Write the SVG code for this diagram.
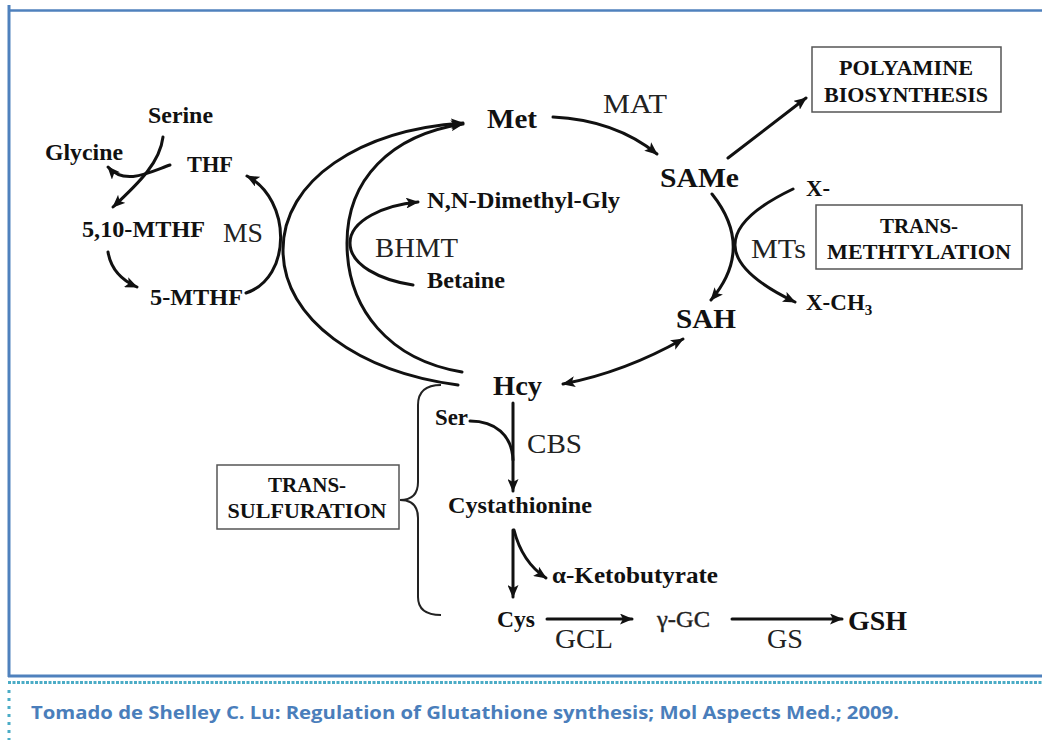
<svg xmlns="http://www.w3.org/2000/svg" width="1042" height="740" viewBox="0 0 1042 740">
<defs>
<marker id="ah" markerUnits="userSpaceOnUse" markerWidth="13" markerHeight="11" viewBox="0 0 13 11" refX="12" refY="5.5" orient="auto-start-reverse">
<path d="M0,0 L13,5.5 L0,11 L3,5.5 z" fill="#111"/>
</marker>
</defs>
<style>
.b{font-family:"Liberation Serif","Times New Roman",serif;font-weight:bold;fill:#111}
.r{font-family:"Liberation Serif","Times New Roman",serif;font-weight:normal;fill:#222}
.lbl{font-size:23px}
.big{font-size:28px}
.enz{font-size:28px}
.box{font-size:21px}
.ln{fill:none;stroke:#111;stroke-width:3;stroke-linecap:round}
.bx{fill:#fff;stroke:#555;stroke-width:1.5}
</style>
<rect width="1042" height="740" fill="#fff"/>
<g id="frame">
<line x1="8" y1="10.5" x2="1042" y2="10.5" stroke="#4f81bd" stroke-width="2.5"/>
<line x1="9" y1="5" x2="9" y2="677" stroke="#4f81bd" stroke-width="3"/>
<line x1="8" y1="676" x2="1042" y2="676" stroke="#4f81bd" stroke-width="3"/>
<line x1="8" y1="682.5" x2="1042" y2="682.5" stroke="#4bacc6" stroke-width="3" stroke-dasharray="3,1.5"/>
<line x1="9" y1="690" x2="9" y2="740" stroke="#4bacc6" stroke-width="3" stroke-dasharray="3,5"/>
<text x="31" y="719" font-family="'Open Sans','Noto Sans',sans-serif" font-weight="bold" font-size="18" fill="#4a7ebb" textLength="868" lengthAdjust="spacingAndGlyphs">Tomado de Shelley C. Lu: Regulation of Glutathione synthesis; Mol Aspects Med.; 2009.</text>
</g>
<g id="connectors">
<path class="ln" d="M163,137 C160,162 140,182 113,207" marker-end="url(#ah)"/>
<path class="ln" d="M170,165 C150,172 125,186 108,167" marker-end="url(#ah)"/>
<path class="ln" d="M108,252 Q112,276 137,287" marker-end="url(#ah)"/>
<path class="ln" d="M246,293 C292,278 292,200 247,176" marker-end="url(#ah)"/>
<path class="ln" d="M458,385 C360,372 283,320 283,250 C283,180 360,130 463,123" marker-end="url(#ah)"/>
<path class="ln" d="M462,372 C390,360 347,310 347,243 C347,180 390,135 463,124" marker-end="url(#ah)"/>
<path class="ln" d="M413,285 C380,280 350,265 350,243 C350,220 385,205 418,202" marker-end="url(#ah)"/>
<path class="ln" d="M553,117 Q615,120 657,154" marker-end="url(#ah)"/>
<path class="ln" d="M728,158 L806,98" marker-end="url(#ah)"/>
<path class="ln" d="M712,194 Q755,248 711,300" marker-end="url(#ah)"/>
<path class="ln" d="M793,189 Q676,245 795,302" marker-end="url(#ah)"/>
<path class="ln" d="M563,384 Q625,372 683,339" marker-start="url(#ah)" marker-end="url(#ah)"/>
<path class="ln" d="M513,403 L513,491" marker-end="url(#ah)"/>
<path class="ln" d="M470,421 C495,421 512,435 513,460"/>
<path class="ln" d="M513,530 L513,597" marker-end="url(#ah)"/>
<path class="ln" d="M514,530 Q522,562 546,578" marker-end="url(#ah)"/>
<path class="ln" d="M547,619 L632,619" marker-end="url(#ah)"/>
<path class="ln" d="M732,619 L842,619" marker-end="url(#ah)"/>
<path d="M441,385 C425,385 418,392 418,405 L418,482 C418,494 412,500 400,500 C412,500 418,506 418,518 L418,597 C418,608 425,615 441,615" fill="none" stroke="#222" stroke-width="2"/>
</g>
<g id="n-serine"><text class="b lbl" x="148" y="123" textLength="65" lengthAdjust="spacingAndGlyphs">Serine</text></g>
<g id="n-glycine"><text class="b lbl" x="45" y="160" textLength="78" lengthAdjust="spacingAndGlyphs">Glycine</text></g>
<g id="n-thf"><text class="b lbl" x="187" y="172" textLength="46" lengthAdjust="spacingAndGlyphs">THF</text></g>
<g id="n-510mthf"><text class="b lbl" x="82" y="237" textLength="123" lengthAdjust="spacingAndGlyphs">5,10-MTHF</text></g>
<g id="e-ms"><text class="r enz" x="223" y="242" textLength="40" lengthAdjust="spacingAndGlyphs">MS</text></g>
<g id="n-5mthf"><text class="b lbl" x="150" y="305" textLength="93" lengthAdjust="spacingAndGlyphs">5-MTHF</text></g>
<g id="n-met"><text class="b big" x="487" y="128" textLength="50" lengthAdjust="spacingAndGlyphs">Met</text></g>
<g id="e-mat"><text class="r enz" x="603" y="113" textLength="64" lengthAdjust="spacingAndGlyphs">MAT</text></g>
<g id="n-same"><text class="b big" x="660" y="187" textLength="79" lengthAdjust="spacingAndGlyphs">SAMe</text></g>
<g id="n-dmg"><text class="b lbl" x="427" y="208" textLength="193" lengthAdjust="spacingAndGlyphs">N,N-Dimethyl-Gly</text></g>
<g id="e-bhmt"><text class="r enz" x="375" y="257" textLength="83" lengthAdjust="spacingAndGlyphs">BHMT</text></g>
<g id="n-betaine"><text class="b lbl" x="427" y="288" textLength="78" lengthAdjust="spacingAndGlyphs">Betaine</text></g>
<g id="n-polyamine">
<rect class="bx" x="812" y="47" width="189" height="65"/>
<text class="b box" x="906" y="75" text-anchor="middle" textLength="134" lengthAdjust="spacingAndGlyphs">POLYAMINE</text>
<text class="b box" x="906" y="102" text-anchor="middle" textLength="164" lengthAdjust="spacingAndGlyphs">BIOSYNTHESIS</text>
</g>
<g id="n-x"><text class="b lbl" x="806" y="196" textLength="24" lengthAdjust="spacingAndGlyphs">X-</text></g>
<g id="e-mts"><text class="r enz" x="751" y="258" textLength="55" lengthAdjust="spacingAndGlyphs">MTs</text></g>
<g id="n-transmethylation">
<rect class="bx" x="816" y="205" width="206" height="64"/>
<text class="b box" x="919" y="233" text-anchor="middle">TRANS-</text>
<text class="b box" x="919" y="259" text-anchor="middle" textLength="184" lengthAdjust="spacingAndGlyphs">METHTYLATION</text>
</g>
<g id="n-xch3"><text class="b lbl" x="806" y="310">X-CH<tspan font-size="15" dy="5">3</tspan></text></g>
<g id="n-sah"><text class="b big" x="676" y="328" textLength="60" lengthAdjust="spacingAndGlyphs">SAH</text></g>
<g id="n-hcy"><text class="b big" x="493" y="395" textLength="49" lengthAdjust="spacingAndGlyphs">Hcy</text></g>
<g id="n-ser"><text class="b lbl" x="435" y="425" textLength="33" lengthAdjust="spacingAndGlyphs">Ser</text></g>
<g id="e-cbs"><text class="r enz" x="527" y="453" textLength="55" lengthAdjust="spacingAndGlyphs">CBS</text></g>
<g id="n-cystathionine"><text class="b lbl" x="448" y="513" textLength="144" lengthAdjust="spacingAndGlyphs">Cystathionine</text></g>
<g id="n-transsulfuration">
<rect class="bx" x="217" y="465" width="182" height="64"/>
<text class="b box" x="307" y="492" text-anchor="middle">TRANS-</text>
<text class="b box" x="307" y="518" text-anchor="middle" textLength="159" lengthAdjust="spacingAndGlyphs">SULFURATION</text>
</g>
<g id="n-keto"><text class="b lbl" x="552" y="583" textLength="166" lengthAdjust="spacingAndGlyphs">α-Ketobutyrate</text></g>
<g id="n-cys"><text class="b lbl" x="497" y="627" textLength="38" lengthAdjust="spacingAndGlyphs">Cys</text></g>
<g id="e-gcl"><text class="r enz" x="555" y="648" textLength="58" lengthAdjust="spacingAndGlyphs">GCL</text></g>
<g id="n-ggc"><text class="r" font-size="24" x="657" y="627" textLength="53" lengthAdjust="spacingAndGlyphs" style="stroke:#222;stroke-width:0.4">γ-GC</text></g>
<g id="e-gs"><text class="r enz" x="767" y="648" textLength="36" lengthAdjust="spacingAndGlyphs">GS</text></g>
<g id="n-gsh"><text class="b big" x="848" y="630" textLength="59" lengthAdjust="spacingAndGlyphs">GSH</text></g>
</svg>
